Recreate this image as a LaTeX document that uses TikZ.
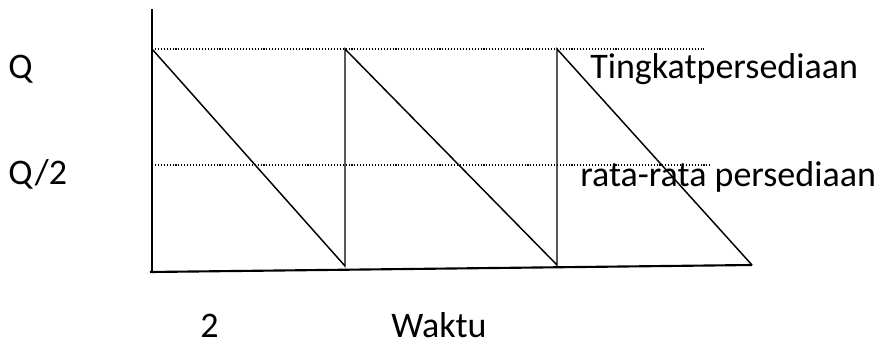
\documentclass[tikz,border=0pt]{standalone}
\usepackage{fontspec}
\setmainfont{Carlito}
\usepackage{tikz}
\usetikzlibrary{positioning,calc}
\tikzset{
  axisline/.style={line width=1.6pt},
  stockline/.style={line width=1.1pt,line join=miter},
  levelline/.style={line width=0.8pt,dash pattern=on 0.8pt off 1.4pt},
  lbl/.style={anchor=base west,inner sep=0pt,font=\fontsize{27}{32}\selectfont}
}
\begin{document}
\begin{tikzpicture}[x=0.75pt,y=-0.75pt]
    \useasboundingbox (0,0) rectangle (894,343);
    % axes
    \coordinate (top) at (152,9);
    \coordinate (origin) at (152,272);
    \coordinate (end) at (752,265);
    \draw[axisline] (top) -- (origin);
    \draw[axisline] (150,272) -- (end);
    % order cycles
    \coordinate (p1) at (152,49);
    \coordinate (b1) at (345,266);
    \coordinate (p2) at (345,49);
    \coordinate (b2) at (557,265);
    \coordinate (p3) at (557,49);
    \draw[stockline] (p1) -- (b1) -- (p2) -- (b2) -- (p3) -- (end);
    % level lines
    \coordinate (qend) at (704,49);
    \coordinate (hstart) at (152,165);
    \coordinate (hend) at (712,165);
    \draw[levelline] (p1) -- (qend);
    \draw[levelline] (hstart) -- (hend);
    % labels
    \node[lbl] (lq) at (8,78) {Q};
    \node[lbl] (lqh) at (8,184) {Q/2};
    \node[lbl] (ltk) at (590,78) {Tingkatpersediaan};
    \node[lbl] (lrt) at (580,186) {rata-rata persediaan};
    \node[lbl] (ltwo) at (200,337) {2};
    \node[lbl] (lwk) at (391,337) {Waktu};
\end{tikzpicture}
\end{document}
